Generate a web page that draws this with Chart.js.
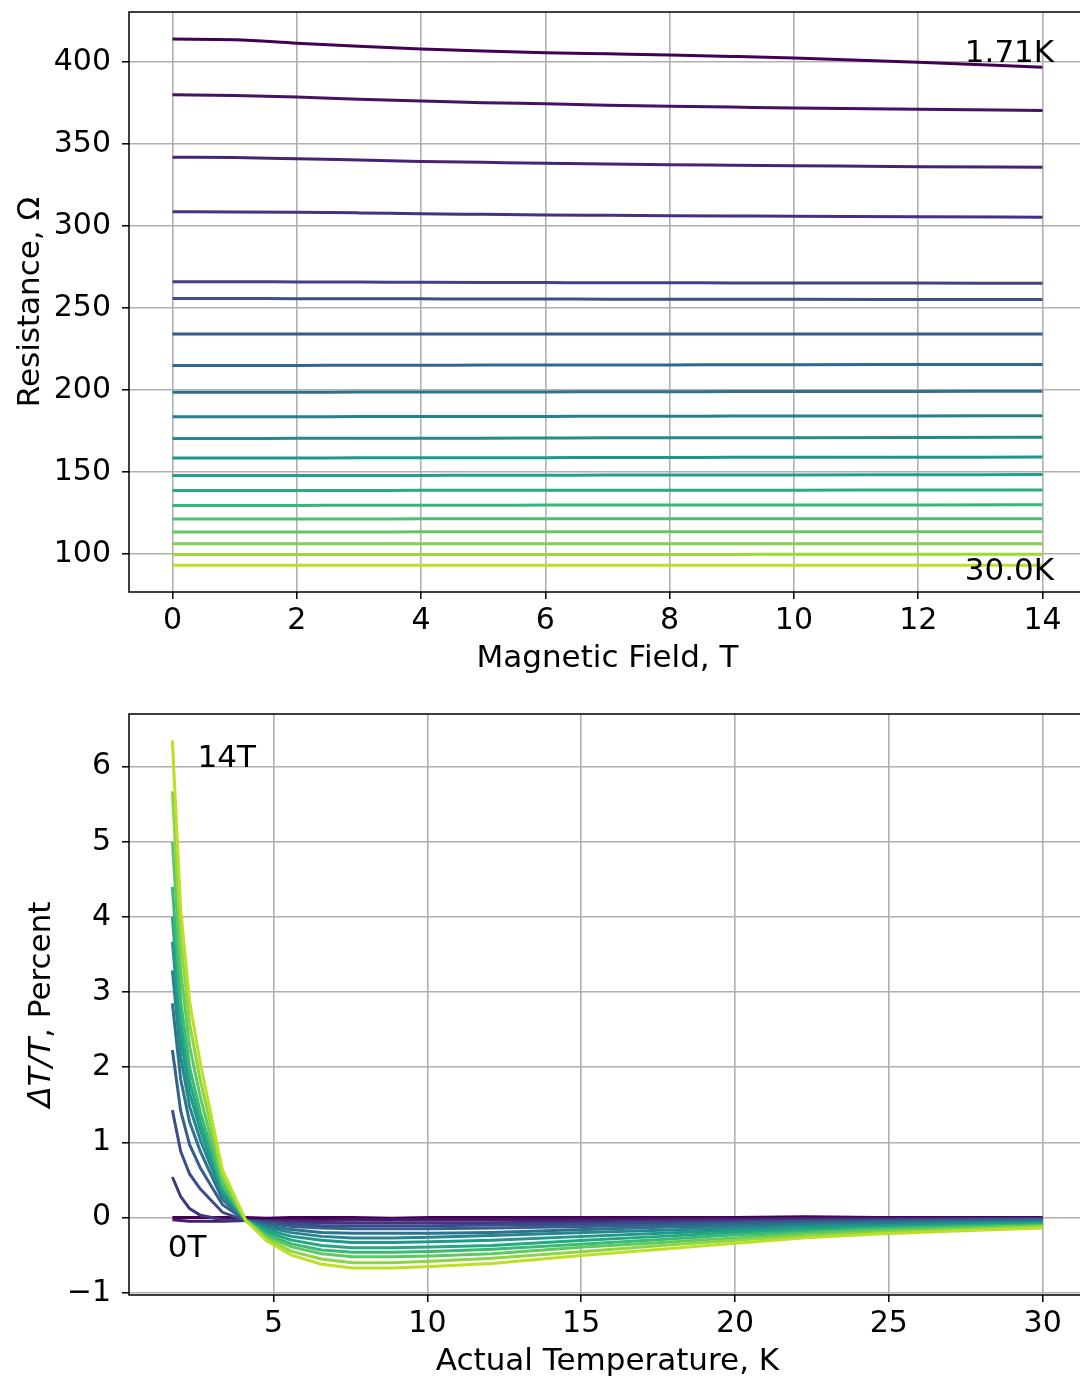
<!DOCTYPE html>
<html>
<head>
<meta charset="utf-8">
<script src="https://cdn.jsdelivr.net/npm/chart.js@4.4.1/dist/chart.umd.min.js"></script>
<style>
  html, body { margin: 0; padding: 0; background: #fff; overflow: hidden; }
  #wrap { position: relative; width: 1080px; height: 1379px; overflow: hidden; }
  canvas { position: absolute; left: 0; }
</style>
</head>
<body>
<div id="wrap">
  <canvas id="fieldChart" width="1090" height="690" style="top:0"></canvas>
  <canvas id="tempChart" width="1090" height="689" style="top:690px"></canvas>
</div>
<script>
// magnetic fields (T) and actual temperatures (K)
const fields = [0, 1, 2, 3, 4, 5, 6, 7, 8, 9, 10, 12, 14];
const temps = [1.71, 1.98, 2.27, 2.62, 3.34, 4.1, 4.77, 5.58, 6.56, 7.56, 8.83, 10.1, 12.1, 15.1, 17.6, 20.0, 22.3, 24.6, 27.2, 30.0];

// resistance (ohm) vs field, one row per temperature (1.71K .. 30.0K)
const resistance = [
  [414.0, 413.6, 411.5, 409.6, 408.0, 406.7, 405.7, 405.0, 404.3, 403.4, 402.4, 399.9, 396.8],
  [380.1, 379.6, 378.6, 377.3, 376.2, 375.2, 374.5, 373.7, 373.0, 372.5, 372.0, 371.2, 370.5],
  [341.9, 341.7, 341.0, 340.2, 339.4, 338.8, 338.2, 337.8, 337.4, 337.1, 336.8, 336.2, 335.8],
  [308.7, 308.6, 308.4, 308.0, 307.5, 307.1, 306.7, 306.5, 306.3, 306.1, 305.9, 305.7, 305.3],
  [266.0, 266.0, 265.9, 265.8, 265.7, 265.6, 265.5, 265.4, 265.4, 265.3, 265.3, 265.2, 265.1],
  [255.8, 255.8, 255.7, 255.7, 255.6, 255.5, 255.5, 255.4, 255.4, 255.3, 255.3, 255.2, 255.1],
  [234.1, 234.1, 234.1, 234.1, 234.1, 234.1, 234.2, 234.2, 234.2, 234.2, 234.2, 234.2, 234.2],
  [215.0, 215.0, 215.0, 215.1, 215.1, 215.2, 215.2, 215.3, 215.3, 215.4, 215.4, 215.5, 215.6],
  [198.6, 198.6, 198.6, 198.7, 198.7, 198.8, 198.8, 198.9, 198.9, 199.0, 199.0, 199.1, 199.2],
  [183.7, 183.7, 183.7, 183.8, 183.8, 183.9, 183.9, 184.0, 184.0, 184.1, 184.1, 184.2, 184.3],
  [170.4, 170.4, 170.5, 170.5, 170.6, 170.6, 170.7, 170.8, 170.8, 170.9, 170.9, 171.0, 171.2],
  [158.5, 158.5, 158.5, 158.6, 158.6, 158.7, 158.7, 158.8, 158.8, 158.9, 158.9, 159.0, 159.1],
  [147.8, 147.8, 147.8, 147.9, 147.9, 148.0, 148.0, 148.1, 148.1, 148.2, 148.2, 148.3, 148.4],
  [138.7, 138.7, 138.7, 138.7, 138.8, 138.8, 138.8, 138.9, 138.9, 138.9, 138.9, 139.0, 139.0],
  [129.6, 129.6, 129.6, 129.7, 129.7, 129.7, 129.8, 129.8, 129.8, 129.9, 129.9, 129.9, 130.0],
  [121.3, 121.3, 121.3, 121.3, 121.4, 121.4, 121.4, 121.4, 121.4, 121.4, 121.5, 121.5, 121.5],
  [113.4, 113.4, 113.4, 113.4, 113.5, 113.5, 113.5, 113.5, 113.5, 113.5, 113.6, 113.6, 113.6],
  [106.3, 106.3, 106.3, 106.3, 106.3, 106.3, 106.3, 106.3, 106.3, 106.3, 106.3, 106.3, 106.3],
  [99.6, 99.6, 99.6, 99.6, 99.7, 99.7, 99.7, 99.7, 99.7, 99.7, 99.8, 99.8, 99.8],
  [93.1, 93.1, 93.1, 93.1, 93.1, 93.1, 93.1, 93.1, 93.1, 93.1, 93.1, 93.1, 93.1],
];

// dT/T (percent) vs temperature, one row per field (0T .. 14T)
const deltaT = [
  [0.00, 0.00, 0.00, 0.00, 0.00, 0.00, -0.01, 0.00, 0.00, 0.00, -0.01, 0.00, 0.00, 0.00, 0.00, 0.00, 0.01, 0.00, 0.00, 0.00],
  [-0.03, -0.04, -0.05, -0.05, -0.05, -0.04, -0.04, -0.04, -0.04, -0.03, -0.03, -0.03, -0.03, -0.03, -0.02, -0.02, -0.01, -0.01, -0.01, -0.01],
  [0.54, 0.28, 0.12, 0.03, -0.03, -0.04, -0.05, -0.06, -0.07, -0.07, -0.07, -0.07, -0.07, -0.06, -0.05, -0.04, -0.03, -0.03, -0.02, -0.02],
  [1.43, 0.88, 0.58, 0.38, 0.07, -0.04, -0.06, -0.09, -0.11, -0.11, -0.11, -0.11, -0.10, -0.09, -0.07, -0.06, -0.05, -0.04, -0.03, -0.02],
  [2.23, 1.42, 0.97, 0.66, 0.17, -0.04, -0.08, -0.12, -0.14, -0.15, -0.15, -0.15, -0.14, -0.12, -0.10, -0.08, -0.06, -0.05, -0.04, -0.03],
  [2.85, 1.84, 1.27, 0.88, 0.24, -0.04, -0.11, -0.16, -0.20, -0.21, -0.21, -0.21, -0.20, -0.16, -0.13, -0.11, -0.09, -0.07, -0.06, -0.04],
  [3.29, 2.14, 1.48, 1.03, 0.30, -0.04, -0.13, -0.20, -0.25, -0.27, -0.27, -0.26, -0.24, -0.20, -0.17, -0.14, -0.11, -0.09, -0.07, -0.06],
  [3.67, 2.40, 1.66, 1.16, 0.34, -0.04, -0.16, -0.25, -0.30, -0.33, -0.33, -0.32, -0.30, -0.25, -0.21, -0.17, -0.13, -0.11, -0.09, -0.07],
  [4.00, 2.62, 1.82, 1.27, 0.38, -0.04, -0.19, -0.30, -0.37, -0.40, -0.40, -0.39, -0.37, -0.30, -0.25, -0.20, -0.16, -0.13, -0.11, -0.08],
  [4.40, 2.88, 2.00, 1.40, 0.42, -0.04, -0.22, -0.35, -0.43, -0.46, -0.46, -0.45, -0.42, -0.35, -0.29, -0.23, -0.19, -0.15, -0.12, -0.10],
  [5.00, 3.28, 2.28, 1.60, 0.48, -0.04, -0.25, -0.39, -0.48, -0.52, -0.52, -0.51, -0.48, -0.39, -0.33, -0.27, -0.21, -0.17, -0.14, -0.11],
  [5.67, 3.70, 2.58, 1.82, 0.56, -0.04, -0.28, -0.45, -0.55, -0.60, -0.60, -0.58, -0.54, -0.45, -0.37, -0.30, -0.24, -0.20, -0.16, -0.12],
  [6.35, 4.10, 2.87, 2.05, 0.63, -0.04, -0.31, -0.50, -0.62, -0.67, -0.67, -0.65, -0.61, -0.50, -0.42, -0.34, -0.27, -0.22, -0.18, -0.14],
];

// tick labels
const fieldTicks = [0, 2, 4, 6, 8, 10, 12, 14];
const resistanceTicks = [100, 150, 200, 250, 300, 350, 400];
const tempTicks = [5, 10, 15, 20, 25, 30];
const deltaTicks = [-1, 0, 1, 2, 3, 4, 5, 6];

// end labels: [text, x, y] in data units
const fieldNotes = [['1.71K', 12.75, 400], ['30.0K', 12.75, 84]];
const tempNotes = [['14T', 2.53, 5.99], ['0T', 1.56, -0.53]];

const FONT = 'DejaVu Sans';
const VIRIDIS = ['#440154', '#482475', '#414487', '#355f8d', '#2a788e', '#21918c',
  '#22a884', '#44bf70', '#7ad151', '#bddf26', '#fde725'];

function hexRgb(h) {
  return [1, 3, 5].map(i => parseInt(h.substr(i, 2), 16));
}

// sample viridis at t in [0, 1]
function viridis(t) {
  const p = t * (VIRIDIS.length - 1);
  const i = Math.min(Math.floor(p), VIRIDIS.length - 2);
  const f = p - i;
  const a = hexRgb(VIRIDIS[i]), b = hexRgb(VIRIDIS[i + 1]);
  const c = a.map((v, k) => Math.round(v + (b[k] - v) * f));
  return `rgb(${c[0]},${c[1]},${c[2]})`;
}

function buildSets(xs, rows, smooth) {
  const n = rows.length;
  return rows.map((row, i) => ({
    data: row.map((y, j) => ({ x: xs[j], y: y })),
    borderColor: viridis(0.9 * i / (n - 1)),
    borderWidth: 3,
    pointRadius: 0,
    tension: 0,
    cubicInterpolationMode: smooth ? 'monotone' : 'default',
    order: n - i,
  }));
}

const frame = {
  id: 'frame',
  afterDraw(chart) {
    const { ctx, chartArea: a } = chart;
    ctx.save();
    ctx.strokeStyle = '#000';
    ctx.lineWidth = 1.5;
    ctx.strokeRect(a.left, a.top, a.right - a.left, a.bottom - a.top);
    ctx.restore();
  }
};

function notesPlugin(notes) {
  return {
    id: 'notes',
    afterDatasetsDraw(chart) {
      const { ctx, scales } = chart;
      ctx.save();
      ctx.fillStyle = '#000';
      ctx.font = `31px "${FONT}"`;
      ctx.textAlign = 'left';
      ctx.textBaseline = 'alphabetic';
      notes.forEach(([t, x, y]) => {
        ctx.fillText(t, scales.x.getPixelForValue(x), scales.y.getPixelForValue(y));
      });
      ctx.restore();
    }
  };
}

// y title with an italic "ΔT/T" part
const deltaTitle = {
  id: 'deltaTitle',
  afterDraw(chart) {
    const { ctx, chartArea: a } = chart;
    const it = `italic 31px "${FONT}"`, up = `31px "${FONT}"`;
    ctx.save();
    ctx.font = it;
    const w1 = ctx.measureText('\u0394T/T').width;
    ctx.font = up;
    const w2 = ctx.measureText(', Percent').width;
    ctx.translate(42, (a.top + a.bottom) / 2);
    ctx.rotate(-Math.PI / 2);
    ctx.fillStyle = '#000';
    ctx.textBaseline = 'middle';
    ctx.textAlign = 'left';
    ctx.font = it;
    ctx.fillText('\u0394T/T', -(w1 + w2) / 2, 0);
    ctx.font = up;
    ctx.fillText(', Percent', -(w1 + w2) / 2 + w1, 0);
    ctx.restore();
  }
};

function axis(min, max, ticks, pad, extra) {
  return Object.assign({
    type: 'linear',
    min: min,
    max: max,
    afterBuildTicks: s => { s.ticks = ticks.map(v => ({ value: v })); },
    grid: { color: '#b0b0b0', lineWidth: 1.6, tickColor: '#000', tickLength: 7, tickWidth: 1.5 },
    border: { display: false },
    ticks: {
      color: '#000',
      padding: pad,
      font: { family: FONT, size: 30 },
      callback: v => String(v).replace('-', '\u2212'),
    },
  }, extra);
}

// fixed axis box sizes so the plot area lands where it should
function fixWidth(w) {
  return s => { s.width = w; s.paddingTop = 0; s.paddingBottom = 0; };
}
function fixHeight(h) {
  return s => { s.height = h; s.paddingLeft = 0; s.paddingRight = 0; };
}

function makeChart(id, sets, scales, padTop, plugins) {
  return new Chart(document.getElementById(id), {
    type: 'line',
    data: { datasets: sets },
    options: {
      responsive: false,
      animation: false,
      devicePixelRatio: 1,
      layout: { padding: { top: padTop, right: 4, left: 0, bottom: 0 } },
      plugins: { legend: { display: false }, tooltip: { enabled: false } },
      scales: scales,
    },
    plugins: plugins,
  });
}

const titleFont = { family: FONT, size: 31, lineHeight: 1.2 };

makeChart('fieldChart', buildSets(fields, resistance, true), {
  x: axis(-0.7, 14.7, fieldTicks, 4, {
    afterFit: fixHeight(98),
    title: { display: true, text: 'Magnetic Field, T', color: '#000', font: titleFont, padding: { top: 0, bottom: 12 } },
  }),
  y: axis(76.8, 430.5, resistanceTicks, 11, {
    afterFit: fixWidth(129),
    title: { display: true, text: 'Resistance, \u03a9', color: '#000', font: titleFont, padding: { top: 12, bottom: 0 } },
  }),
}, 12, [frame, notesPlugin(fieldNotes)]);

makeChart('tempChart', buildSets(temps, deltaT, false), {
  x: axis(0.3, 31.41, tempTicks, 4, {
    afterFit: fixHeight(84),
    title: { display: true, text: 'Actual Temperature, K', color: '#000', font: titleFont, padding: { top: 0, bottom: -2 } },
  }),
  y: axis(-1.03, 6.7, deltaTicks, 11, {
    afterFit: fixWidth(129),
  }),
}, 24, [frame, notesPlugin(tempNotes), deltaTitle]);
</script>
</body>
</html>
